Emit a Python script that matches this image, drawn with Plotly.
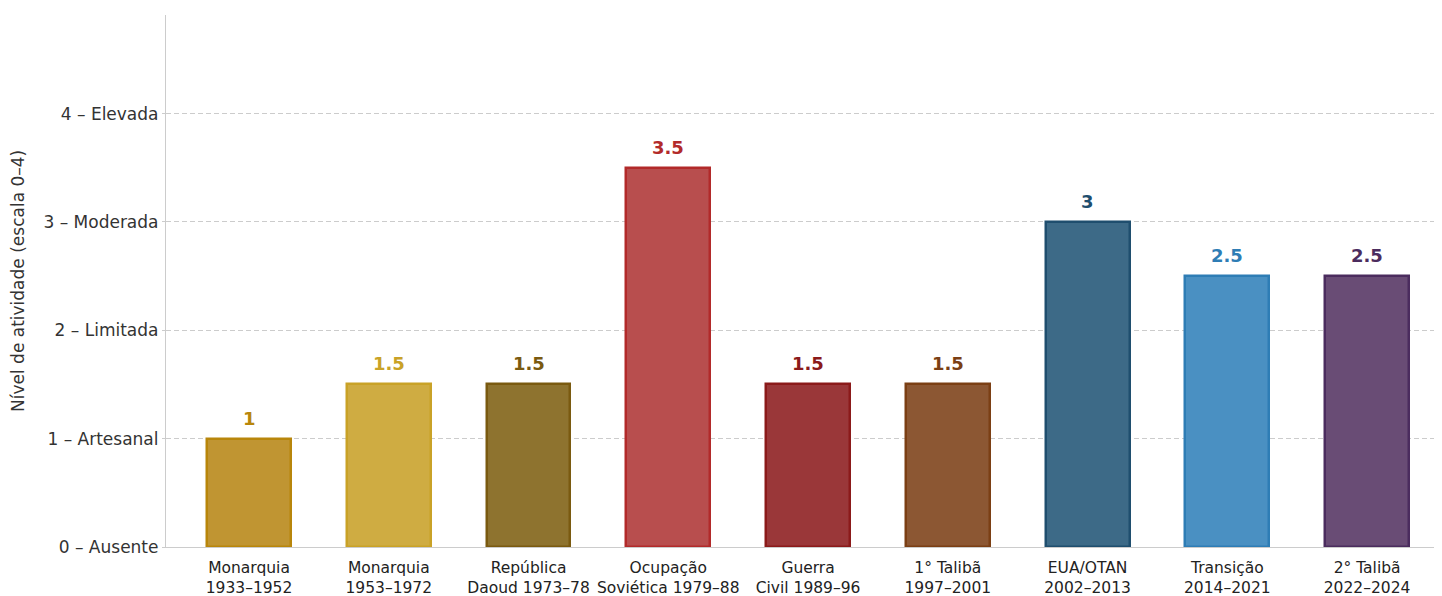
import plotly.graph_objects as go

categories = ["Monarquia<br>1933–1952", "Monarquia<br>1953–1972", "República<br>Daoud 1973–78",
              "Ocupação<br>Soviética 1979–88", "Guerra<br>Civil 1989–96", "1° Talibã<br>1997–2001",
              "EUA/OTAN<br>2002–2013", "Transição<br>2014–2021", "2° Talibã<br>2022–2024"]
values = [1, 1.5, 1.5, 3.5, 1.5, 1.5, 3, 2.5, 2.5]
value_labels = ["1", "1.5", "1.5", "3.5", "1.5", "1.5", "3", "2.5", "2.5"]
fill_colors = ["#C09532", "#CFAC42", "#8E732F", "#B84E4E", "#9A3739", "#8C5733", "#3D6A87", "#4A90C2", "#694C75"]
edge_colors = ["#B8860B", "#C9A227", "#7A5A10", "#B22A2A", "#8B1A1A", "#7B3F14", "#1F4E6E", "#2E7DB5", "#4B2C5E"]
tick_vals = [0, 1, 2, 3, 4]
tick_text = ["0 – Ausente", "1 – Artesanal", "2 – Limitada", "3 – Moderada", "4 – Elevada"]
y_title = "Nível de atividade (escala 0–4)"

x = list(range(len(categories)))

fig = go.Figure()
fig.add_trace(go.Bar(
    x=x, y=values, width=0.6,
    marker=dict(color=fill_colors, line=dict(color=edge_colors, width=2.5)),
    hoverinfo="skip",
))

for xi, v, lab, c in zip(x, values, value_labels, edge_colors):
    fig.add_annotation(x=xi, y=v, text=f"<b>{lab}</b>", showarrow=False,
                       yanchor="bottom", yshift=8,
                       font=dict(size=18, color=c, family="DejaVu Sans"))

fig.add_annotation(xref="paper", yref="paper", x=(18 - 166) / 1276, y=0.5,
                   xanchor="center", yanchor="middle", textangle=-90, showarrow=False,
                   text=y_title, font=dict(size=17, color="#333333", family="DejaVu Sans"))

fig.update_layout(
    width=1434, height=588,
    margin=dict(l=158, r=0, t=7, b=49, autoexpand=False),
    paper_bgcolor="white", plot_bgcolor="white",
    font=dict(family="DejaVu Sans", color="#333333"),
    showlegend=False,
    bargap=0,
)
fig.update_xaxes(
    range=[-0.594, 8.536], tickmode="array", tickvals=x, ticktext=categories,
    tickfont=dict(size=15.5, color="#222222"),
    showgrid=False, showline=True, linecolor="#cccccc", linewidth=1.2,
    ticks="", zeroline=False, automargin=False, ticklabelstandoff=6,
)
fig.update_yaxes(
    range=[0, 4.91], tickmode="array", tickvals=tick_vals, ticktext=tick_text,
    tickfont=dict(size=17, color="#333333"),
    showgrid=True, gridcolor="#cccccc", griddash="5px,3px", gridwidth=1,
    showline=True, linecolor="#cccccc", linewidth=1.2,
    ticks="outside", ticklen=3, tickcolor="#cccccc",
    zeroline=False, automargin=False,
)

fig.write_html("out.html")
